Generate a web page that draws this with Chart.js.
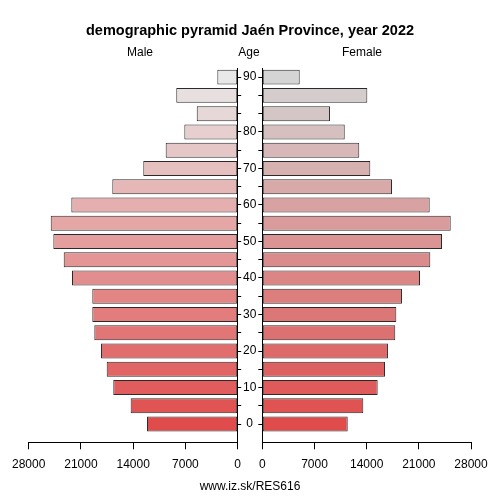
<!DOCTYPE html>
<html>
<head>
<meta charset="utf-8">
<script src="https://cdn.jsdelivr.net/npm/chart.js@4/dist/chart.umd.min.js"></script>
<style>
body { margin: 0; background: #fff; font-family: "Liberation Sans", Arial, sans-serif; }
#wrap { position: relative; width: 500px; height: 500px; overflow: hidden; background: #fff; }
canvas { position: absolute; top: 0; }
#male { left: 0; }
#female { left: 230px; }
.txt { position: absolute; transform: translateX(-50%); white-space: nowrap; font-size: 12px; line-height: 1; color: #000; }
</style>
</head>
<body>
<div id="wrap">
  <canvas id="male" width="250" height="500"></canvas>
  <canvas id="female" width="270" height="500"></canvas>
  <div class="txt" style="left:250px;top:23px;font-size:14.5px;font-weight:bold">demographic pyramid Jaén Province, year 2022</div>
  <div class="txt" style="left:140px;top:46px">Male</div>
  <div class="txt" style="left:249px;top:46px">Age</div>
  <div class="txt" style="left:362px;top:46px">Female</div>
  <div class="txt" style="left:250px;top:480px">www.iz.sk/RES616</div>
</div>
<script>
// age groups, bottom row first (0-4, 5-9, ...)
var ageRows = [0, 1, 2, 3, 4, 5, 6, 7, 8, 9, 10, 11, 12, 13, 14, 15, 16, 17, 18, 19];
var ageLabels = ["0", "", "10", "", "20", "", "30", "", "40", "", "50", "", "60", "", "70", "", "80", "", "", "90"];
var male = [12150, 14340, 16670, 17550, 18310, 19210, 19480, 19480, 22200, 23310, 24700, 25050, 22290, 16800, 12650, 9650, 7150, 5490, 8230, 2730];
var female = [11460, 13550, 15480, 16460, 16860, 17840, 17980, 18740, 21160, 22540, 24110, 25280, 22460, 17400, 14490, 13010, 11060, 9080, 14090, 5020];
var xMax = 28000;
var xStep = 7000;

function mix(a, b, t) {
  var r = Math.round(a[0] + (b[0] - a[0]) * t);
  var g = Math.round(a[1] + (b[1] - a[1]) * t);
  var bl = Math.round(a[2] + (b[2] - a[2]) * t);
  return "rgb(" + r + "," + g + "," + bl + ")";
}
function shades(top) {
  return ageRows.map(function (r) { return mix([224, 76, 76], top, r / (ageRows.length - 1)); });
}

function makeside(can, values, isMale) {
  var ctx = document.getElementById(can).getContext("2d");
  var pts = values.map(function (v, i) { return { x: v, y: ageRows[i] }; });
  var chart = new Chart(ctx, {
    type: "bar",
    data: {
      datasets: [
        {
          data: pts,
          backgroundColor: shades(isMale ? [232, 232, 232] : [212, 212, 212]),
          borderColor: "#2a2a2a",
          borderWidth: 1,
          borderSkipped: false,
          barPercentage: 0.82,
          categoryPercentage: 1
        },
      ],
    },
    options: {
      indexAxis: "y",
      responsive: false,
      animation: false,
      layout: { padding: isMale ? { left: 28.7, top: 68, right: 0, bottom: 0 } : { left: 0, top: 68, right: 29, bottom: 0 } },
      plugins: { legend: { display: false }, tooltip: { enabled: false }, title: { display: false } },
      scales: {
        x: {
          type: "linear",
          min: 0,
          max: xMax,
          reverse: isMale,
          ticks: { stepSize: xStep, color: "#000", padding: 8, font: { family: "Liberation Sans", size: 12 },
                   callback: function (v) { return String(v); } },
          grid: { drawOnChartArea: false, tickLength: 7, color: "#000" },
          border: { color: "#000" },
          afterFit: function (s) { s.height = 57.7; }
        },
        y: {
          type: "linear",
          position: isMale ? "right" : "left",
          min: -1,
          max: 19.5,
          offset: false,
          bounds: "data",
          afterBuildTicks: function (s) { s.ticks = ageRows.map(function (v) { return { value: v }; }); },
          ticks: {
            display: !isMale,
            autoSkip: false,
            crossAlign: "center",
            padding: 2,
            color: "#000",
            font: { family: "Liberation Sans", size: 12 },
            callback: function (v, i) { return ageLabels[i]; }
          },
          grid: { drawOnChartArea: false, offset: false, tickLength: isMale ? 3.5 : 4, color: "#000" },
          border: { color: "#000" },
          afterFit: function (s) { s.width = isMale ? 12.3 : 32.3; }
        }
      }
    }
  });
  return chart;
}

var maleChart = makeside("male", male, true);
var femaleChart = makeside("female", female, false);
</script>
</body>
</html>
